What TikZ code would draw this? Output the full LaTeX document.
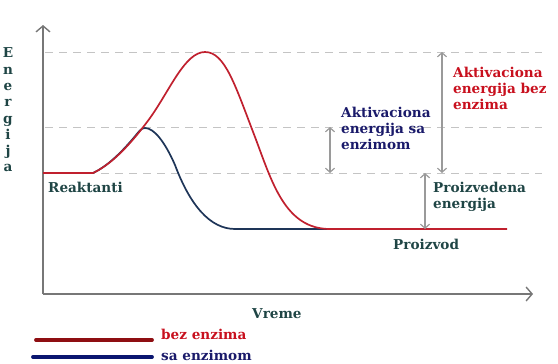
\documentclass[tikz,border=0pt]{standalone}
\usepackage{fontspec}
\setmainfont{DejaVu Serif}
\usetikzlibrary{arrows.meta}
\definecolor{axisgray}{HTML}{777777}
\definecolor{dashgray}{HTML}{C4C4C4}
\definecolor{arrgray}{HTML}{9A9A9A}
\definecolor{curvered}{HTML}{C0202E}
\definecolor{curveblue}{HTML}{1E3558}
\definecolor{legred}{HTML}{8E0E12}
\definecolor{legblue}{HTML}{0A1670}
\definecolor{txtred}{HTML}{C8101E}
\definecolor{txtblue}{HTML}{1A1A6A}
\definecolor{txtgreen}{HTML}{1F4545}
\tikzset{
  lbl/.style={inner sep=0pt, anchor=base west, font=\bfseries\fontsize{13.6}{16}\selectfont},
  axisline/.style={draw=axisgray, line width=1.6pt, -{Straight Barb[length=6pt,width=14pt,line width=1.4pt]}},
  guide/.style={draw=dashgray, line width=0.9pt, dash pattern=on 8pt off 6pt},
  measure/.style={draw=arrgray, line width=1.2pt, {Straight Barb[length=4pt,width=9pt]}-{Straight Barb[length=4pt,width=9pt]}},
  curve/.style={line width=1.7pt, line join=round},
  legline/.style={line width=3.8pt, line cap=round}
}
\begin{document}
\begin{tikzpicture}[x=1pt,y=-1pt]
\useasboundingbox (0,0) rectangle (558,364);
% guide coordinates
\coordinate (o) at (43,294);
\coordinate (ytop) at (43,25);
\coordinate (xend) at (533,294);
\coordinate (g1a) at (45,52);  \coordinate (g1b) at (542,52);
\coordinate (g2a) at (45,127); \coordinate (g2b) at (542,127);
\coordinate (g3a) at (45,173); \coordinate (g3b) at (542,173);
% dashed guides
\draw[guide] (g1a) -- (g1b);
\draw[guide] (g2a) -- (g2b);
\draw[guide] (g3a) -- (g3b);
% axes
\draw[axisline] (o) -- (ytop);
\draw[axisline] (o) -- (xend);
% curves
\coordinate (r0) at (43,173);
\coordinate (r1) at (93,173);
\coordinate (bs) at (134.2,137.2);
\coordinate (bp) at (145,128);
\coordinate (bq) at (235,229);
\coordinate (rp) at (205,52);
\coordinate (rq) at (330,229);
\coordinate (rend) at (507,229);
\draw[curve, curveblue] (r0) -- (r1) .. controls (105.75,167) and (119.06,155.19) .. (bs)
  .. controls (139,131.5) and (141,128) .. (bp)
  .. controls (154,128) and (165,142) .. (175,165)
  .. controls (190,205) and (210,229) .. (bq) -- (rq);
\draw[curve, curvered] (r0) -- (r1) .. controls (110,165) and (128,148) .. (150,118)
  .. controls (170,90) and (185,52) .. (rp)
  .. controls (225,52) and (235,85) .. (255,137)
  .. controls (272,182) and (285,229) .. (rq) -- (rend);
% measurement arrows
\coordinate (m1a) at (330,127); \coordinate (m1b) at (330,173);
\coordinate (m2a) at (442,52);  \coordinate (m2b) at (442,173);
\coordinate (m3a) at (425,173); \coordinate (m3b) at (425,229);
\draw[measure] (m1a) -- (m1b);
\draw[measure] (m2a) -- (m2b);
\draw[measure] (m3a) -- (m3b);
% labels
\node[lbl, text=txtblue] (la1) at (341,117) {Aktivaciona};
\node[lbl, text=txtblue] (la2) at (341,133) {energija sa};
\node[lbl, text=txtblue] (la3) at (341,149) {enzimom};
\node[lbl, text=txtred] (lb1) at (453,77) {Aktivaciona};
\node[lbl, text=txtred] (lb2) at (453,93) {energija bez};
\node[lbl, text=txtred] (lb3) at (453,109) {enzima};
\node[lbl, text=txtgreen] (lc1) at (433,192) {Proizvedena};
\node[lbl, text=txtgreen] (lc2) at (433,208) {energija};
\node[lbl, text=txtgreen] (lprod) at (393,249) {Proizvod};
\node[lbl, text=txtgreen] (lreak) at (48,192) {Reaktanti};
\node[lbl, text=txtgreen] (lvreme) at (252,318) {Vreme};
% Energija vertical
\foreach \ch [count=\i] in {E,n,e,r,g,i,j,a} {
  \node[lbl, anchor=base, text=txtgreen] (en\i) at (8,{41.5+\i*16.3}) {\ch};
}
% legend
\coordinate (lr1) at (36,340); \coordinate (lr2) at (152,340);
\coordinate (lbb1) at (33,357); \coordinate (lbb2) at (152,357);
\draw[legline, legred] (lr1) -- (lr2);
\draw[legline, legblue] (lbb1) -- (lbb2);
\node[lbl, text=txtred] (lgr) at (161,339) {bez enzima};
\node[lbl, text=txtblue] (lgb) at (161,360) {sa enzimom};
\end{tikzpicture}
\end{document}
